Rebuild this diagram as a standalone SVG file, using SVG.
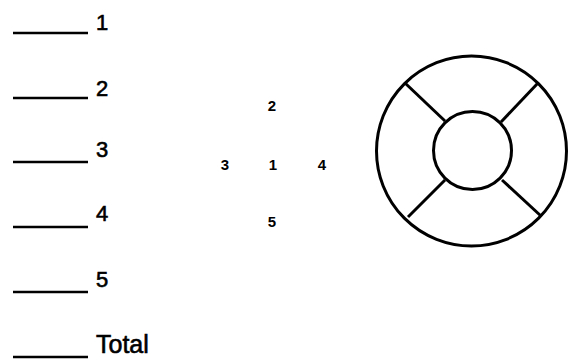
<svg xmlns="http://www.w3.org/2000/svg" width="568" height="360" viewBox="0 0 568 360">
<style>
.blank{stroke:#000;stroke-width:2.5;fill:none}
.lbl{font-family:"Liberation Sans",Arial,sans-serif;font-size:22px;fill:#000;stroke:#000;stroke-width:0.6}
.num{font-family:"Liberation Sans",Arial,sans-serif;font-size:15px;font-weight:bold;fill:#000;text-anchor:middle}
.ring{stroke:#000;stroke-width:3;fill:none}
</style>
<rect width="568" height="360" fill="#fff"/>
<g id="score1"><line class="blank" x1="13" y1="33" x2="88" y2="33"/><text class="lbl" x="96" y="30">1</text></g>
<g id="score2"><line class="blank" x1="13" y1="98" x2="88" y2="98"/><text class="lbl" x="96" y="96">2</text></g>
<g id="score3"><line class="blank" x1="13" y1="162" x2="88" y2="162"/><text class="lbl" x="96" y="157">3</text></g>
<g id="score4"><line class="blank" x1="13" y1="227" x2="88" y2="227"/><text class="lbl" x="96" y="221">4</text></g>
<g id="score5"><line class="blank" x1="13" y1="292" x2="88" y2="292"/><text class="lbl" x="96" y="287">5</text></g>
<g id="total"><line class="blank" x1="13" y1="357" x2="88" y2="357"/><text class="lbl" x="96" y="353" style="font-size:25px">Total</text></g>
<g id="layout">
<text class="num" x="272" y="111">2</text>
<text class="num" x="225" y="170">3</text>
<text class="num" x="273" y="170">1</text>
<text class="num" x="322" y="170">4</text>
<text class="num" x="272" y="227">5</text>
</g>
<g id="target">
<circle class="ring" cx="471.5" cy="151" r="95"/>
<circle class="ring" cx="472.5" cy="150.5" r="39"/>
</g>
<g id="connectors">
<line class="ring" x1="405" y1="83" x2="445" y2="121"/>
<line class="ring" x1="538" y1="83" x2="501" y2="122"/>
<line class="ring" x1="408" y1="217" x2="445" y2="180"/>
<line class="ring" x1="541" y1="216" x2="502" y2="180"/>
</g>
</svg>
